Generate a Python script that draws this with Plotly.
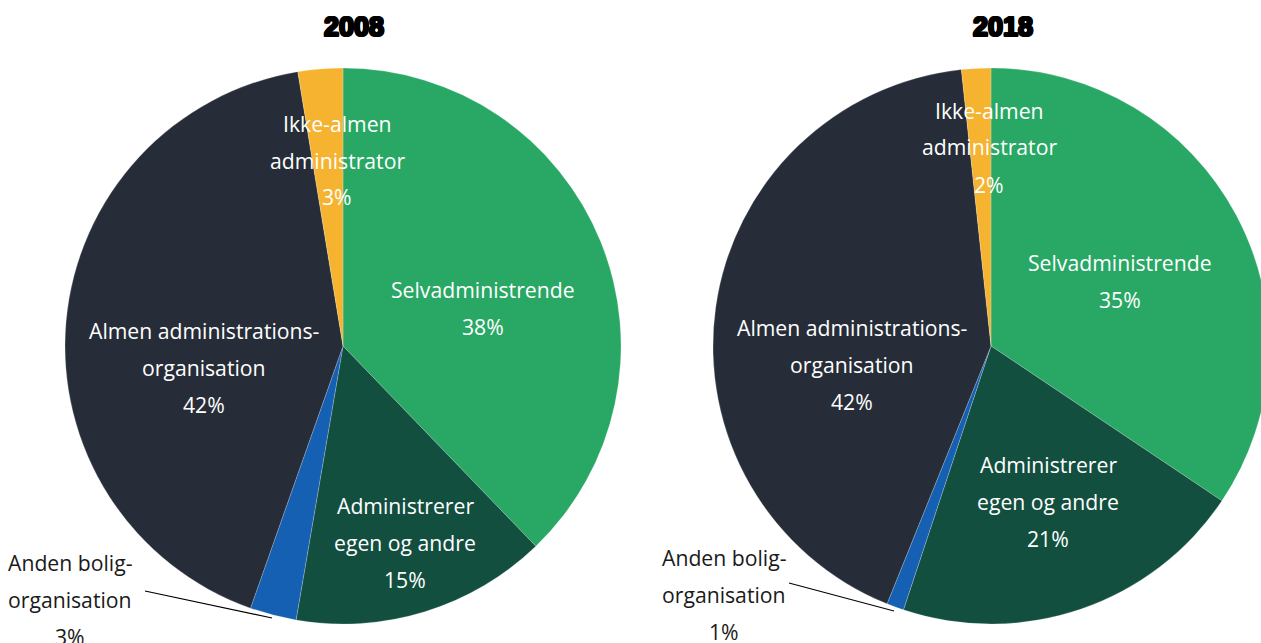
import plotly.graph_objects as go

W, H = 1269, 643

categories = ["Selvadministrende", "Administrerer egen og andre", "Anden boligorganisation",
              "Almen administrationsorganisation", "Ikke-almen administrator"]
colors = ["#28A864", "#124F3F", "#1560B2", "#262D38", "#F6B330"]
values_2008 = [37.8, 14.9, 2.7, 42.0, 2.6]
values_2018 = [34.4, 20.7, 1.0, 42.2, 1.7]
pct_2008 = ["38%", "15%", "3%", "42%", "3%"]
pct_2018 = ["35%", "21%", "1%", "42%", "2%"]
label_lines = [["Selvadministrende"], ["Administrerer", "egen og andre"], ["Anden bolig-", "organisation"],
               ["Almen administrations-", "organisation"], ["Ikke-almen", "administrator"]]
titles = ["2008", "2018"]

# layout (pixels): pie centres/radius, label anchor (x, first line y)
pies = [
    dict(values=values_2008, pct=pct_2008, cx=343, cy=346, r=278, title_x=354,
         labels=[(483, 289), (405, 505), (70, 562), (204, 330), (337, 123)],
         leader=((145, 591), (272, 618))),
    dict(values=values_2018, pct=pct_2018, cx=991, cy=346, r=278, title_x=1003,
         labels=[(1120, 262), (1048, 464), (724, 557), (852, 327), (989, 110)],
         leader=((789, 583), (894, 611))),
]
LINE_H = 37

def px(x):
    return x / W

def py(y):
    return 1 - y / H

fig = go.Figure()
annotations = []
shapes = []
for p, title in zip(pies, titles):
    fig.add_trace(go.Pie(
        labels=categories, values=p["values"],
        marker=dict(colors=colors, line=dict(color="rgba(255,255,255,0.35)", width=0.6)),
        sort=False, direction="clockwise", rotation=0,
        textinfo="none", hoverinfo="label+percent", showlegend=False,
        domain=dict(x=[px(p["cx"] - p["r"]), px(p["cx"] + p["r"])],
                    y=[py(p["cy"] + p["r"]), py(p["cy"] - p["r"])]),
    ))
    annotations.append(dict(
        text=title, x=px(p["title_x"]), y=py(27), xref="paper", yref="paper",
        showarrow=False, xanchor="center", yanchor="middle",
        font=dict(family="Liberation Sans", size=27, color="#000000", weight="bold",
                  shadow="1px 0 0 #000, -1px 0 0 #000, 0 1px 0 #000, 0 -1px 0 #000, 1px 1px 0 #000, -1px -1px 0 #000, 1px -1px 0 #000, -1px 1px 0 #000"),
    ))
    for i, ((lx, ly), lines) in enumerate(zip(p["labels"], label_lines)):
        color = "#1a1a1a" if i == 2 else "#ffffff"
        for k, t in enumerate(lines + [p["pct"][i]]):
            annotations.append(dict(
                text=t, x=px(lx), y=py(ly + k * LINE_H), xref="paper", yref="paper",
                showarrow=False, xanchor="center", yanchor="middle",
                font=dict(family="Open Sans", size=21.2, color=color),
            ))
    (x0, y0), (x1, y1) = p["leader"]
    shapes.append(dict(type="line", xref="paper", yref="paper",
                       x0=px(x0), y0=py(y0), x1=px(x1), y1=py(y1),
                       line=dict(color="#000000", width=1.2)))

fig.update_layout(
    width=W, height=H, autosize=False,
    margin=dict(l=0, r=0, t=0, b=0),
    paper_bgcolor="#ffffff", plot_bgcolor="#ffffff",
    annotations=annotations, shapes=shapes,
    font=dict(family="Open Sans"),
)

fig.write_html("out.html", post_script="document.documentElement.style.overflow='hidden';document.body.style.overflow='hidden';document.body.style.margin='0';")
